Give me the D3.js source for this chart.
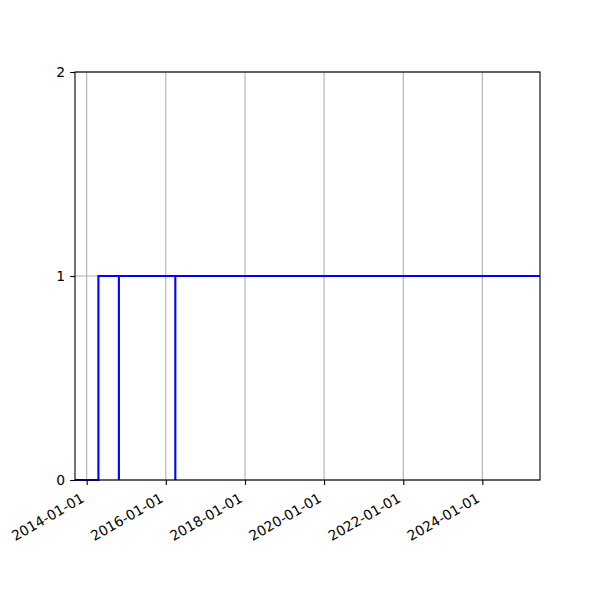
<!DOCTYPE html>
<html>
<head>
<meta charset="utf-8">
<script src="https://cdn.jsdelivr.net/npm/d3@7"></script>
<style>
  body { margin: 0; background: #fff; }
  svg text { font-family: "DejaVu Sans", sans-serif; font-size: 13.9px; fill: #000; }
</style>
</head>
<body>
<div id="chart-area"></div>
<script>
// Datos
const s1Dates = ["2013-09-15", "2014-04-19", "2025-06-16"];
const s1Values = [0, 1, 1];
const s2Dates = ["2014-10-25", "2014-10-25", "2025-06-16"];
const s2Values = [0, 1, 1];
const s3Dates = ["2016-03-29", "2016-03-29", "2025-06-16"];
const s3Values = [0, 1, 1];
const xTickLabels = ["2014-01-01", "2016-01-01", "2018-01-01", "2020-01-01", "2022-01-01", "2024-01-01"];
const yTickValues = [0, 1, 2];
const xDomain = ["2013-09-15", "2025-06-16"];

const parse = d3.timeParse("%Y-%m-%d");

const series = [
    [s1Dates, s1Values],
    [s2Dates, s2Values],
    [s3Dates, s3Values]
].map(([ds, vs]) => ds.map((d, i) => ({ date: parse(d), value: vs[i] })));

// SVG
const svg = d3.select("#chart-area")
    .append("svg")
    .attr("width", 600)
    .attr("height", 600);

const m = { left: 75, right: 540, top: 72, bottom: 480 };

// Escalas
const x = d3.scaleTime()
    .domain(xDomain.map(parse))
    .range([m.left, m.right]);

const y = d3.scaleLinear()
    .domain([0, 2])
    .range([m.bottom, m.top]);

svg.append("clipPath").attr("id", "clip")
    .append("rect")
    .attr("x", m.left).attr("y", m.top - 2)
    .attr("width", m.right - m.left).attr("height", m.bottom - m.top + 4);

// Grid
const grid = svg.append("g");
grid.selectAll("line.gx")
    .data(xTickLabels)
    .enter().append("line")
    .attr("x1", d => x(parse(d))).attr("x2", d => x(parse(d)))
    .attr("y1", m.top).attr("y2", m.bottom)
    .attr("stroke", "#b0b0b0").attr("stroke-width", 1.1);
grid.selectAll("line.gy")
    .data(yTickValues)
    .enter().append("line")
    .attr("x1", m.left).attr("x2", m.right)
    .attr("y1", d => y(d)).attr("y2", d => y(d))
    .attr("stroke", "#b0b0b0").attr("stroke-width", 1.1);

// Lineas escalonadas
const line = d3.line()
    .x(d => x(d.date))
    .y(d => y(d.value))
    .curve(d3.curveStepAfter);

svg.append("g").attr("clip-path", "url(#clip)")
    .selectAll("path")
    .data(series)
    .enter().append("path")
    .attr("d", line)
    .attr("fill", "none")
    .attr("stroke", "#0000ff")
    .attr("stroke-width", 2.1);

// Ejes
const xAxis = d3.axisBottom(x)
    .tickValues(xTickLabels.map(parse))
    .tickSize(4.9)
    .tickFormat("");
const gx = svg.append("g")
    .attr("transform", `translate(0,${m.bottom})`)
    .call(xAxis);
gx.select(".domain").remove();
gx.selectAll(".tick line").attr("stroke", "#000").attr("stroke-width", 1.1);

svg.selectAll("text.xlab")
    .data(xTickLabels)
    .enter().append("text")
    .attr("class", "xlab")
    .attr("text-anchor", "end")
    .attr("transform", d => `translate(${x(parse(d)) - 1.6},501) rotate(-30)`)
    .text(d => d);

const yAxis = d3.axisLeft(y)
    .tickValues(yTickValues)
    .tickSize(4.9)
    .tickPadding(4.9)
    .tickFormat(d3.format("d"));
const gy = svg.append("g")
    .attr("transform", `translate(${m.left},0)`)
    .call(yAxis);
gy.select(".domain").remove();
gy.selectAll(".tick line").attr("stroke", "#000").attr("stroke-width", 1.1);
gy.selectAll(".tick text")
    .style("font-family", "DejaVu Sans, sans-serif")
    .style("font-size", "13.9px");

// Bordes
svg.append("rect")
    .attr("x", m.left).attr("y", m.top)
    .attr("width", m.right - m.left).attr("height", m.bottom - m.top)
    .attr("fill", "none")
    .attr("stroke", "#000")
    .attr("stroke-width", 1.1);
</script>
</body>
</html>
